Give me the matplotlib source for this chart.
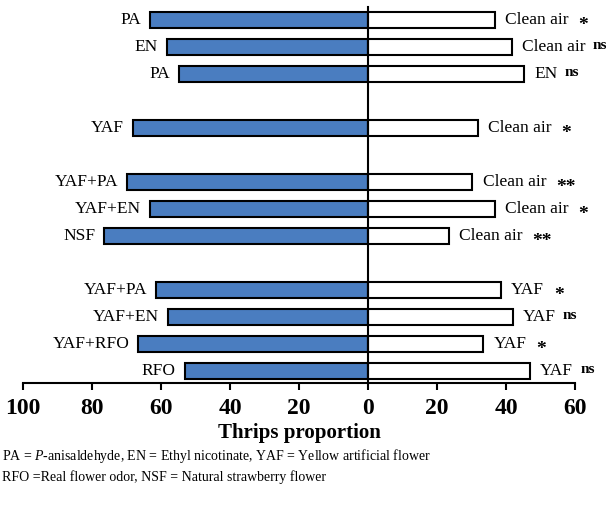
import matplotlib.pyplot as plt
import numpy as np

plt.rcParams['font.family'] = 'Liberation Serif'
plt.rcParams['mathtext.fontset'] = 'custom'
plt.rcParams['mathtext.rm'] = 'Liberation Serif'
plt.rcParams['mathtext.it'] = 'Liberation Serif:italic'

# choice tests, grouped; one empty row between groups
group_sizes = [3, 1, 3, 4]
left_names = ['PA', 'EN', 'PA', 'YAF', 'YAF+PA', 'YAF+EN', 'NSF',
              'YAF+PA', 'YAF+EN', 'YAF+RFO', 'RFO']
right_names = ['Clean air', 'Clean air', 'EN', 'Clean air', 'Clean air',
               'Clean air', 'Clean air', 'YAF', 'YAF', 'YAF', 'YAF']
left_vals = [63.2, 58.3, 54.8, 68.1, 69.8, 63.2, 76.5, 61.5, 58.1, 66.6, 53.1]
right_vals = [36.8, 41.7, 45.2, 31.9, 30.2, 36.8, 23.5, 38.5, 41.9, 33.4, 46.9]
sig = ['*', 'ns', 'ns', '*', '**', '*', '**', '*', 'ns', '*', 'ns']

# row positions
rows = []
r = 0
for g in group_sizes:
    for k in range(g):
        rows.append(r)
        r += 1
    r += 1
rows = np.array(rows)

fig = plt.figure(figsize=(6.06, 5.09), dpi=100)
ax = fig.add_axes([23 / 606, 126 / 509, 552 / 606, 376 / 509])

blue = '#4A7DC0'
ax.barh(rows, -np.array(left_vals), height=0.6, color=blue,
        edgecolor='black', linewidth=1.5, zorder=2)
ax.barh(rows, right_vals, height=0.6, color='white',
        edgecolor='black', linewidth=1.5, zorder=2)

for y, lv, rv, ln, rn, s in zip(rows, left_vals, right_vals,
                                left_names, right_names, sig):
    ax.text(-lv - 2.6, y, ln, ha='right', va='center', fontsize=12.5)
    t = ax.text(rv + 3.0, y, rn, ha='left', va='center', fontsize=12.5)
    if s == 'ns':
        ax.annotate(s, xy=(1, 0.5), xycoords=t, xytext=(5, 1),
                    textcoords='offset points', ha='left', va='center',
                    fontsize=11, fontweight='bold')
    else:
        ax.annotate(s, xy=(1, 0.5), xycoords=t, xytext=(7, -4),
                    textcoords='offset points', ha='left', va='center',
                    fontsize=14, fontweight='bold')

ax.set_xlim(-100, 60)
ax.set_ylim(13.45, -0.48)

ax.spines['top'].set_visible(False)
ax.spines['right'].set_visible(False)
ax.spines['left'].set_position(('data', 0))
ax.spines['left'].set_zorder(3)
ax.spines['left'].set_linewidth(1.5)
ax.spines['bottom'].set_linewidth(1.5)
ax.set_yticks([])

ticks = np.arange(-100, 61, 20)
ax.set_xticks(ticks)
ax.set_xticklabels([str(abs(v)) for v in ticks], fontsize=17, fontweight='bold')
ax.tick_params(axis='x', direction='out', length=5, width=1.5, pad=6)
ax.set_xlabel('Thrips proportion', fontsize=15, fontweight='bold', labelpad=3)

fig.text(0.004, (509 - 460) / 509,
         r'PA = $\it{P}$-anisaldehyde, EN = Ethyl nicotinate, '
         'YAF = Yellow artificial flower', fontsize=10, va='baseline')
fig.text(0.004, (509 - 481) / 509,
         'RFO =Real flower odor, NSF = Natural strawberry flower',
         fontsize=10, va='baseline')

fig.savefig('out.png', dpi=100)
